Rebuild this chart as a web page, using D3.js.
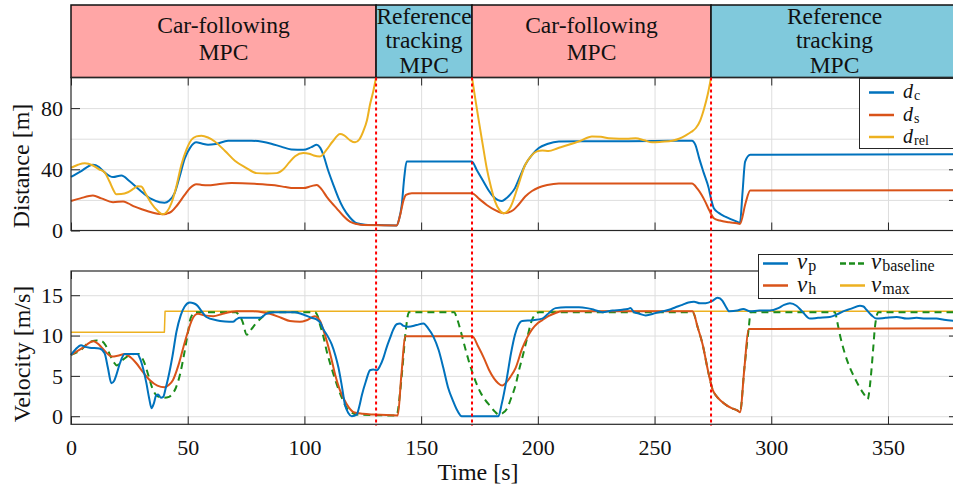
<!DOCTYPE html>
<html><head><meta charset="utf-8">
<script src="https://cdn.jsdelivr.net/npm/d3@7"></script>
<style>
html,body{margin:0;padding:0;background:#fff;}
svg{display:block;}
svg text{font-family:"Liberation Serif","DejaVu Serif","Liberation Sans",sans-serif !important;}
</style></head>
<body><svg id="c" width="953" height="493"></svg>
<script>
// ---------------- data ----------------
const xTicks = [0,50,100,150,200,250,300,350];
const dTicks = [0,40,80];
const dGrid = [20,40,60,80];
const vTicks = [0,5,10,15];
const phaseBounds = [130.7,171.8,274.2];
const phases = [
  {t0:0, t1:130.7, kind:"cf", lines:["Car-following","MPC"]},
  {t0:130.7, t1:171.8, kind:"rt", lines:["Reference","tracking","MPC"]},
  {t0:171.8, t1:274.2, kind:"cf", lines:["Car-following","MPC"]},
  {t0:274.2, t1:380, kind:"rt", lines:["Reference","tracking","MPC"]}
];

const dC = [[0,35],[4,38.5],[9.4,43],[12,41.5],[14.4,38],[18,34.9],[21.6,36],[25,32.4],[29.4,26.5],[34.4,20.6],[38,18.5],[40.1,18.2],[42,19.5],[44.4,24.4],[46.5,35],[48.7,47],[51,54],[53.7,57.6],[56,56.8],[58.7,56],[62,56.5],[67.3,58.7],[77.3,58.7],[82,58],[85.8,56.7],[90,54.8],[94.4,53],[99.5,52.7],[103,54.5],[105.3,56],[106.8,54],[108.1,49.5],[110,40],[112.4,29.8],[114.5,21.5],[116.7,14.5],[119.5,8.5],[122.4,4.7],[126,3.8],[130.2,3.6],[139.5,3.3],[140.5,7],[141.7,16.7],[142.8,35],[143.8,45.1],[145,45.1],[171.7,45.1],[174,39],[176.7,32],[178.8,26.5],[180.9,22.2],[183,19.8],[184.5,19.3],[186,20.5],[188,23.3],[190.2,27.7],[192,34],[194.6,43],[197.5,49.5],[200.4,53.9],[204,56.5],[209,58.2],[230,58.3],[250,58.5],[266,58.7],[267.5,56],[269.1,47.3],[271,38],[273.2,27.7],[274.3,20],[275.4,14.5],[277.5,11.5],[280.3,9],[285.3,5.8],[286.6,5.1],[287.7,25],[288.8,45],[291,49.5],[380,49.8]];

const dS = [[0,19.3],[4,21],[9.4,22.8],[13,21],[18,18.5],[22.3,19],[24.5,17.7],[27.3,15.6],[31,13.6],[34.4,11.9],[37,10.9],[39.4,10.6],[41,11],[43,12.3],[45.5,16.5],[48.7,23.3],[51,27.8],[53.7,30.3],[56,29.8],[58.7,29.5],[63,30.2],[68.7,31],[78.7,30.5],[87.3,29.5],[92,28.4],[95.2,27.7],[99.5,27.7],[103,29],[105.3,29.8],[107.3,27],[109.5,22.2],[111.7,18],[113.8,14.5],[116.5,9.8],[119.5,5.8],[122.5,4.2],[125.2,3.6],[139.5,3.3],[141,10],[142.5,20],[143.5,23.3],[146,24.4],[171.7,24.4],[175,20.5],[178.1,16.7],[181.5,13.5],[185.3,11.3],[187.3,11.8],[189.5,13.4],[191.8,17],[194.6,22.2],[197.5,25.8],[200.4,28.1],[204,29.7],[209,30.7],[266,30.7],[268.5,27],[271.7,18.9],[273.5,13],[275.4,8],[278,6.5],[282,5.4],[285.3,4.7],[286.6,4.3],[289,18],[291,26.1],[380,26.3]];

const dRel = [[0,41],[3,43],[5.9,44],[9.4,42.5],[12,40],[14.4,38],[16.5,32],[18,27],[19.4,23.7],[21.5,23.8],[24.4,25],[27,27.5],[28.5,28.9],[30.1,28.7],[32,24],[34.4,17.8],[37,13],[39.4,10.6],[41.2,12.5],[43,17.8],[45,28],[47.3,43],[49.5,53],[51.6,59.3],[53.7,61.5],[55.9,62],[58.7,60.8],[61.6,58.2],[66,52],[70.2,45.6],[75,41],[79.5,37.5],[84,37.3],[88.1,37.5],[91,40],[93.5,44.5],[96,48.5],[99.5,50.6],[102,50.2],[104,49],[106.7,48.4],[109.5,52.8],[112,58],[115.3,63],[117,62.2],[119.5,59],[121.7,57.6],[123.5,59.5],[125.2,64.8],[126.8,72],[128.1,82.3],[129.5,91],[130.7,100],[150,null],[171.8,100],[173,88],[174.5,73.6],[176.3,57],[178.1,40.8],[180,28],[181.7,18.9],[183.5,13.5],[185.3,11.3],[186.8,12.3],[188,14.5],[189,17.8],[191.5,29],[194.6,43],[197,48.5],[199.6,51.7],[202,52.3],[204.6,52],[208.5,53.8],[213.2,56],[218,58.5],[223.2,61.5],[227,61.2],[230.4,60.3],[234.8,60],[238,60],[241.9,60.3],[245.5,59],[249,57.6],[253,58],[257.6,58.7],[260.5,60],[263.4,62.2],[265.8,64.5],[267.7,67],[269.6,72],[271.3,80],[272.8,89],[274.2,100]];

const vMax = [[0,10.4],[40,10.4],[40.3,13],[380,13]];

const vP = [[0,7.6],[2,8.3],[4.3,8.8],[6,8.6],[7.9,8.5],[12.2,8.4],[14.4,7.8],[15.8,6],[17.3,4.1],[18.5,4.4],[19.4,5.1],[21,6.6],[23,7.7],[26.6,7.7],[28.5,7.7],[29.5,7.2],[31,5.8],[32.3,4.1],[33.5,2.2],[34.5,1.0],[35.5,1.6],[36.5,2.6],[37.3,2.7],[38.5,2.3],[39.5,2.4],[40.5,3.4],[41.6,4.7],[43.5,7.5],[45.2,10.5],[47,12.5],[48.7,13.6],[50.9,14.1],[52.5,14],[53.8,13.8],[56,13],[58,12.3],[62.3,11.9],[66,11.75],[69.4,11.7],[70.8,12],[72.3,12.2],[76,12.2],[80.9,12.2],[83.7,12.7],[87,12.9],[90.8,12.9],[95.9,12.9],[99.5,12.6],[103,12.2],[105.2,12],[106.8,11.6],[108.1,10.8],[110,9.9],[111.7,8.9],[113.3,7.5],[114.6,6],[116,3.8],[117.4,1.4],[118.8,0.4],[120.3,0],[122.4,0.2],[123.5,1.2],[124.6,2.6],[126.3,4.3],[128.1,5.7],[129.5,5.8],[131,5.7],[132.5,6.3],[133.8,7.2],[135.3,8.6],[136.7,9.7],[138,10.7],[139.5,11.4],[141,11.5],[142.5,11.2],[144.5,11.1],[148,11.3],[151,11.5],[153,10.9],[155.2,9.9],[157.5,8.2],[159.5,6],[161.5,3.6],[163.8,1.8],[165.5,0.7],[167.4,0],[183.1,0],[184.5,1.5],[186.7,4.7],[188.5,7.8],[190.2,10.1],[191.5,11.2],[193.3,11.8],[197.6,11.9],[201.9,12.1],[204,12.6],[207.6,13.4],[212,13.5],[217.6,13.5],[221,13.4],[224,13.2],[227.6,12.9],[232,13.1],[236.2,13.2],[238.5,13.3],[239.7,13.4],[241.2,12.9],[243.5,12.7],[246.2,12.5],[250.5,12.8],[256.2,13.2],[259,13.5],[261.9,13.8],[264.5,14.1],[266.9,14.2],[269.5,14],[271.9,14],[274.8,14.3],[276.9,14.7],[278,14.6],[279.1,14.3],[280.5,13.6],[282,13],[285.5,13.1],[288,13.3],[290.9,13],[295,13.1],[299.4,13.1],[303,13.4],[305.5,13.8],[308,14],[310.8,13.7],[313.5,12.9],[316.6,12.1],[320,12.2],[325.1,12.3],[328,12.6],[330.8,13],[334,13.3],[338,13.7],[339.5,13.6],[340.8,13.2],[343,12.5],[345.1,12.1],[349,12.2],[353.7,12.3],[358,12.1],[362.3,12.2],[366,12.1],[370.8,12.1],[374,11.95],[380,11.8]];

const vH = [[0,7.6],[4.6,8.4],[9.6,9.3],[11.5,9.0],[13.2,8.5],[17.6,7.4],[20,7.5],[23,7.7],[25.5,7.3],[27.9,6.6],[30.5,5.6],[33.7,4.5],[37,3.8],[40.1,3.6],[42,3.9],[43.7,4.5],[46,6.3],[48,8.4],[50,10.4],[51.6,11.8],[53,12.5],[54.4,12.7],[57,12.5],[60.9,12.4],[65,12.7],[70.9,13],[78,13],[82,12.9],[85.2,12.7],[90,12.2],[93.8,11.8],[98.1,11.7],[101,11.9],[104.5,12.4],[105.7,12.2],[106.7,11.8],[108,10.8],[109.6,9.3],[111.5,7.2],[113.2,5.1],[115,3.4],[116.8,2.2],[119,1.1],[121.1,0.5],[125,0.3],[129.7,0.2],[140,0.1],[141.5,5],[143.3,9.9],[171.9,9.9],[174.5,8.6],[176.9,7.2],[179,5.8],[181.2,4.7],[183,4.1],[184.8,3.8],[186.5,4.2],[188.3,4.9],[190.5,6],[193.3,8.4],[195.5,9.8],[197.6,10.8],[199.8,11.5],[201.9,11.9],[204.5,12.4],[207.6,12.8],[210.5,13],[266.3,13],[268.5,11],[270.6,8.9],[273,5.5],[275,3.2],[276.5,2.5],[278.5,1.9],[280.6,1.4],[283,1],[285.6,0.7],[286.6,0.5],[288.5,6],[290.3,10.8],[300,10.82],[380,10.9]];

const vBase = [[0,7.6],[4.6,8.3],[7,9.0],[9,9.3],[11,9.4],[13.2,9.3],[15,8.7],[16.7,7.6],[18.3,6.7],[19.6,6.3],[21.5,6.8],[24,7.4],[27,7.7],[29,7.7],[30.3,7.3],[31.2,6.8],[33,5.2],[34.8,3.5],[36.5,2.6],[37.7,2.4],[40,2.3],[42,2.4],[43.5,2.8],[44.9,3.5],[46.8,5.3],[48.4,7.6],[50,10.2],[51.3,12.2],[53.4,12.9],[70.6,12.9],[72,12.5],[73.4,11.8],[75.3,10.1],[77.3,10.8],[79.2,11.5],[82,12.3],[84.9,12.9],[104.5,12.9],[105.7,12.4],[106.7,11.3],[108.2,9.8],[109.6,8],[111.8,5.8],[113.9,3.9],[116,2.3],[118.2,1],[120,0.5],[122.5,0.2],[139.5,0.1],[141,3],[142,6],[143.3,10.3],[144.8,12.9],[164.1,12.9],[165.5,12],[167,10.5],[169,8.3],[171.3,6],[173.5,4.2],[175.5,2.9],[177.5,2],[179.8,1.2],[181.5,0.6],[183.3,0.2],[185,0.4],[186.9,1],[188.5,2.2],[190.5,3.9],[192,5.8],[193.3,7.2],[195.5,9.8],[197.6,12],[200.5,12.9],[266.3,12.9],[268.5,11],[270.6,8.9],[273,5.5],[275,3.2],[276.5,2.5],[278.5,1.9],[280.6,1.4],[283,1],[285.6,0.7],[286.6,0.5],[288.5,6],[290.3,10.8],[291.2,12.9],[327.3,12.9],[328.2,11.8],[329.4,10.1],[331.5,7.8],[333.7,6],[336,4.6],[338,3.5],[339.8,2.7],[341.3,2.1],[342.2,3.6],[343,6],[343.7,8.5],[344.4,11],[345.9,12.9],[380,12.9]];

// ---------------- drawing ----------------
const C = {blue:"#0072BD", orange:"#D95319", yellow:"#EDB120", green:"#1b8c1b",
           cf:"#ffa6a6", rt:"#80c9dc", grid:"#dedede", axis:"#262626"};
const FONT = "Liberation Serif, DejaVu Serif, Liberation Sans, sans-serif";
const svg = d3.select("#c").attr("font-family", FONT);
const x = d3.scaleLinear().domain([0,380]).range([71,958]);
const yD = d3.scaleLinear().domain([0,100]).range([230.5,77.5]);
const yV = d3.scaleLinear().domain([-1,18]).range([424.3,271]);
const FS = 22;

// banner
const bTop = 5, bBot = yD(100);
const banner = svg.append("g");
phases.forEach(p=>{
  banner.append("rect").attr("x",x(p.t0)).attr("y",bTop)
    .attr("width",x(p.t1)-x(p.t0)).attr("height",bBot-bTop)
    .attr("fill",C[p.kind]).attr("stroke","#111").attr("stroke-width",1.5);
  const cx = (x(p.t0)+x(p.t1))/2;
  const base = p.kind==="cf" ? [33,60] : [24,48,73];
  p.lines.forEach((s,i)=>{
    banner.append("text").attr("x",cx).attr("y",base[i]).attr("text-anchor","middle")
      .attr("font-family",FONT).attr("font-size",23.5).attr("fill","#111").text(s);
  });
});

function panel(y, gridVals){
  const g = svg.append("g");
  const [y0,y1] = y.range();
  g.append("g").attr("transform",`translate(0,${y0})`)
    .call(d3.axisBottom(x).tickValues(xTicks.filter(t=>t>0)).tickSize(-(y0-y1)).tickFormat(""))
    .call(a=>{a.select(".domain").remove(); a.selectAll("line").attr("stroke",C.grid).attr("stroke-width",1);});
  g.append("g").attr("transform",`translate(${x.range()[0]},0)`)
    .call(d3.axisRight(y).tickValues(gridVals).tickSize(x.range()[1]-x.range()[0]).tickFormat(""))
    .call(a=>{a.select(".domain").remove(); a.selectAll("line").attr("stroke",C.grid).attr("stroke-width",1);});
  return g;
}
function frame(y, yTickVals, rightTickVals, showX){
  const g = svg.append("g");
  const [y0,y1] = y.range();
  const [x0,x1] = x.range();
  const style = a=>{a.attr("font-family",FONT); a.select(".domain").remove(); a.selectAll("line").attr("stroke",C.axis).attr("stroke-width",1);
    a.selectAll("text").attr("font-size",FS).attr("font-family",FONT).attr("fill","#111");};
  g.append("g").attr("transform",`translate(0,${y0})`)
    .call(d3.axisBottom(x).tickValues(xTicks).tickSize(-8).tickPadding(10).tickFormat(showX? d3.format("d") : ""))
    .call(style).call(a=>a.selectAll("text").attr("dy","0.95em"));
  g.append("g").attr("transform",`translate(0,${y1})`)
    .call(d3.axisTop(x).tickValues(xTicks).tickSize(-8).tickFormat("")).call(style);
  g.append("g").attr("transform",`translate(${x0},0)`)
    .call(d3.axisLeft(y).tickValues(yTickVals).tickSize(-9).tickPadding(8).tickFormat(d3.format("d")))
    .call(style).call(a=>a.selectAll("text").attr("dy","0.33em"));
  g.append("g").attr("transform",`translate(${x1},0)`)
    .call(d3.axisRight(y).tickValues(rightTickVals).tickSize(-9).tickFormat("")).call(style);
  g.append("rect").attr("x",x0).attr("y",y1).attr("width",x1-x0).attr("height",y0-y1)
    .attr("fill","none").attr("stroke",C.axis).attr("stroke-width",1.2);
}

panel(yD, dGrid);
panel(yV, vTicks);

const lineD = d3.line().defined(d=>d[1]!==null).x(d=>x(d[0])).y(d=>yD(d[1])).curve(d3.curveMonotoneX);
const lineV = d3.line().x(d=>x(d[0])).y(d=>yV(d[1])).curve(d3.curveMonotoneX);

const gD = svg.append("g").attr("fill","none").attr("stroke-linejoin","round");
gD.append("path").attr("d",lineD(dC)).attr("stroke",C.blue).attr("stroke-width",2);
gD.append("path").attr("d",lineD(dS)).attr("stroke",C.orange).attr("stroke-width",2);
gD.append("path").attr("d",lineD(dRel)).attr("stroke",C.yellow).attr("stroke-width",2);

const gV = svg.append("g").attr("fill","none").attr("stroke-linejoin","round");
gV.append("path").attr("d",d3.line().x(d=>x(d[0])).y(d=>yV(d[1]))(vMax)).attr("stroke",C.yellow).attr("stroke-width",1.5);
gV.append("path").attr("d",lineV(vBase)).attr("stroke",C.green).attr("stroke-width",2).attr("stroke-dasharray","7,5");
gV.append("path").attr("d",lineV(vH)).attr("stroke",C.orange).attr("stroke-width",2);
gV.append("path").attr("d",lineV(vP)).attr("stroke",C.blue).attr("stroke-width",2);

frame(yD, dTicks, [20,40,60,80], false);
frame(yV, vTicks, [0,5,10,15], true);

// phase boundaries
svg.append("g").selectAll("line").data(phaseBounds).join("line")
  .attr("x1",d=>x(d)).attr("x2",d=>x(d)).attr("y1",yD(100)).attr("y2",426)
  .attr("stroke","#ff0000").attr("stroke-width",2).attr("stroke-dasharray","3,3");

// axis labels
svg.append("text").attr("transform","translate(29,166) rotate(-90)").attr("text-anchor","middle")
  .attr("font-family",FONT).attr("font-size",24).attr("fill","#111").text("Distance [m]");
svg.append("text").attr("transform","translate(30,354) rotate(-90)").attr("text-anchor","middle")
  .attr("font-family",FONT).attr("font-size",24).attr("fill","#111").text("Velocity [m/s]");
svg.append("text").attr("x",478).attr("y",480).attr("text-anchor","middle")
  .attr("font-family",FONT).attr("font-size",24).attr("fill","#111").text("Time [s]");

// legends
function legItem(g, lx, ly, col, dash, main, sub, tx, tb, fm, fsub){
  g.append("line").attr("x1",lx).attr("x2",lx+25).attr("y1",ly).attr("y2",ly)
    .attr("stroke",col).attr("stroke-width",2.5).attr("stroke-dasharray",dash||null);
  const t = g.append("text").attr("x",tx).attr("y",tb).attr("fill","#111").attr("font-family",FONT);
  t.append("tspan").attr("font-style","italic").attr("font-size",fm).text(main);
  t.append("tspan").attr("font-size",fsub).attr("dy",2).attr("dx",1).text(sub);
}
const L1 = svg.append("g");
L1.append("rect").attr("x",859.5).attr("y",78.5).attr("width",110).attr("height",70)
  .attr("fill","#fff").attr("stroke","#262626").attr("stroke-width",1);
legItem(L1,869,92.5,C.blue,null,"d","c",903,98,20,14);
legItem(L1,869,115,C.orange,null,"d","s",903,120.5,20,14);
legItem(L1,869,137,C.yellow,null,"d","rel",903,143,20,14);

const L2 = svg.append("g");
L2.append("rect").attr("x",758.5).attr("y",254.5).attr("width",210).attr("height",44)
  .attr("fill","#fff").attr("stroke","#262626").attr("stroke-width",1);
legItem(L2,763,263.5,C.blue,null,"v","p",797,269,23,16);
legItem(L2,763,285.5,C.orange,null,"v","h",797,292,23,16);
legItem(L2,840,263.5,C.green,"6,3","v","baseline",871,269,23,16);
legItem(L2,840,285.5,C.yellow,null,"v","max",871,292,23,16);
</script></body></html>
